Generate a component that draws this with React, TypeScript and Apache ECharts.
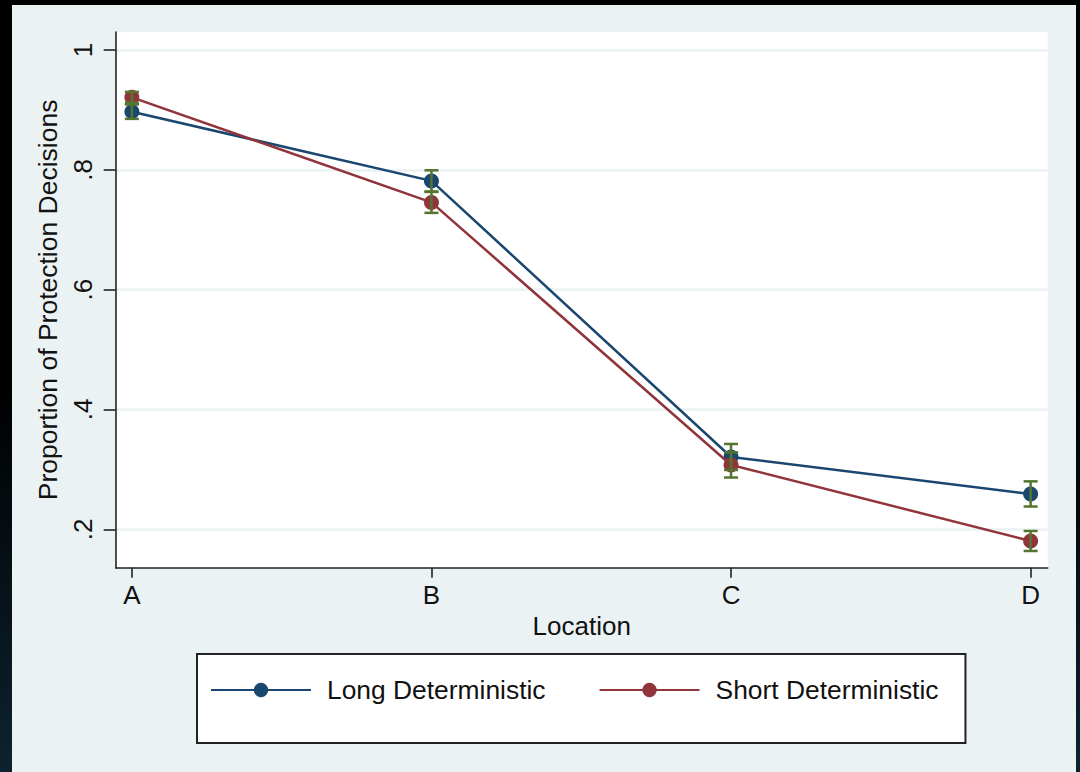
import React, { useEffect, useRef } from 'react';
import * as echarts from 'echarts';

// ---- data ----
const categories = ['A', 'B', 'C', 'D'];
const seriesNames = ['Long Deterministic', 'Short Deterministic'];
const longValues = [0.897, 0.7815, 0.3207, 0.259];
const longErr = [0.012, 0.0177, 0.0217, 0.021];
const shortValues = [0.921, 0.7456, 0.3074, 0.1805];
const shortErr = [0.009, 0.0175, 0.021, 0.0167];
const yTickValues = [0.2, 0.4, 0.6, 0.8, 1];
const yTickLabels = ['.2', '.4', '.6', '.8', '1'];

const NAVY = '#1a476f';
const MAROON = '#90353b';
const GREEN = '#55752f';
const BG = '#eaf2f3';
const FONT = '"Liberation Sans", Arial, Helvetica, sans-serif';

function pts(vals: number[]) {
  return vals.map((v, i) => [i, v]);
}
function ci(vals: number[], errs: number[]) {
  return vals.map((v, i) => [i, v - errs[i], v + errs[i]]);
}

const errRender = (params: any, api: any) => {
  const x = api.value(0);
  const p1 = api.coord([x, api.value(1)]);
  const p2 = api.coord([x, api.value(2)]);
  const hw = 7;
  const style = { stroke: GREEN, lineWidth: 2.5, fill: 'none' };
  return {
    type: 'group',
    children: [
      { type: 'line', shape: { x1: p1[0], y1: p1[1], x2: p2[0], y2: p2[1] }, style },
      { type: 'line', shape: { x1: p1[0] - hw, y1: p1[1], x2: p1[0] + hw, y2: p1[1] }, style },
      { type: 'line', shape: { x1: p2[0] - hw, y1: p2[1], x2: p2[0] + hw, y2: p2[1] }, style },
    ],
  };
};

export default function App() {
  const ref = useRef<HTMLDivElement>(null);
  useEffect(() => {
    if (!ref.current) return;
    const chart = echarts.init(ref.current, null, { renderer: 'svg' });
    const option: any = {
      animation: false,
      backgroundColor: 'transparent',
      textStyle: { fontFamily: FONT },
      graphic: [
        {
          type: 'rect',
          z: -10,
          silent: true,
          shape: { x: 12, y: 5, width: 1064, height: 767 },
          style: { fill: BG },
        },
      ],
      grid: {
        left: 115.7,
        top: 32,
        right: 32.3,
        bottom: 204.3,
        show: true,
        backgroundColor: '#ffffff',
        borderWidth: 0,
      },
      xAxis: {
        type: 'value',
        min: -0.054,
        max: 3.057,
        name: 'Location',
        nameLocation: 'middle',
        nameGap: 44,
        nameTextStyle: { fontSize: 26, color: '#111', fontFamily: FONT },
        axisLine: { show: true, onZero: false, lineStyle: { color: '#222', width: 1.6 } },
        axisTick: { show: true, length: 10, customValues: [0, 1, 2, 3], lineStyle: { color: '#222', width: 1.6 } },
        axisLabel: {
          customValues: [0, 1, 2, 3],
          fontSize: 26,
          color: '#111',
          margin: 14,
          fontFamily: FONT,
          formatter: (v: number) => categories[Math.round(v)] ?? '',
        },
        splitLine: { show: false },
      },
      yAxis: {
        type: 'value',
        min: 0.1359,
        max: 1.03,
        name: 'Proportion of Protection Decisions',
        nameLocation: 'middle',
        nameGap: 46,
        nameRotate: 90,
        nameTextStyle: { fontSize: 26.5, color: '#111', fontFamily: FONT },
        axisLine: { show: true, onZero: false, lineStyle: { color: '#222', width: 1.6 } },
        axisTick: { show: true, length: 12, customValues: yTickValues, lineStyle: { color: '#222', width: 1.6 } },
        axisLabel: {
          customValues: yTickValues,
          rotate: 90,
          fontSize: 26,
          color: '#111',
          margin: 20,
          fontFamily: FONT,
          formatter: (v: number) => {
            const i = yTickValues.findIndex((t) => Math.abs(t - v) < 1e-6);
            return i >= 0 ? yTickLabels[i] : '';
          },
        },
        splitLine: { show: true, lineStyle: { color: BG, width: 2.5 } },
      },
      legend: {
        data: seriesNames,
        left: 197,
        top: 654,
        orient: 'horizontal',
        backgroundColor: '#ffffff',
        borderColor: '#222',
        borderWidth: 2,
        borderRadius: 0,
        padding: [21, 27, 38, 13],
        itemWidth: 100,
        itemHeight: 18,
        itemGap: 53,
        selectedMode: false,
        textStyle: { fontSize: 26.4, color: '#111', fontFamily: FONT, lineHeight: 30, padding: [0, 0, 0, 11] },
      },
      series: [
        {
          name: seriesNames[0],
          type: 'line',
          data: pts(longValues),
          symbol: 'circle',
          symbolSize: 15,
          itemStyle: { color: NAVY },
          lineStyle: { color: NAVY, width: 2.5 },
          z: 2,
        },
        {
          name: seriesNames[1],
          type: 'line',
          data: pts(shortValues),
          symbol: 'circle',
          symbolSize: 15,
          itemStyle: { color: MAROON },
          lineStyle: { color: MAROON, width: 2.5 },
          z: 3,
        },
        {
          name: 'CI long',
          type: 'custom',
          renderItem: errRender,
          data: ci(longValues, longErr),
          encode: { x: 0, y: [1, 2] },
          z: 5,
        },
        {
          name: 'CI short',
          type: 'custom',
          renderItem: errRender,
          data: ci(shortValues, shortErr),
          encode: { x: 0, y: [1, 2] },
          z: 5,
        },
      ],
    };
    chart.setOption(option);
    return () => chart.dispose();
  }, []);
  return (
    <div
      style={{
        position: 'fixed',
        left: 0,
        top: 0,
        width: 1080,
        height: 772,
        background: 'linear-gradient(to bottom, #000000 0%, #000000 50%, #0d2230 100%)',
      }}
    >
      <div ref={ref} style={{ width: 1080, height: 772 }} />
    </div>
  );
}
